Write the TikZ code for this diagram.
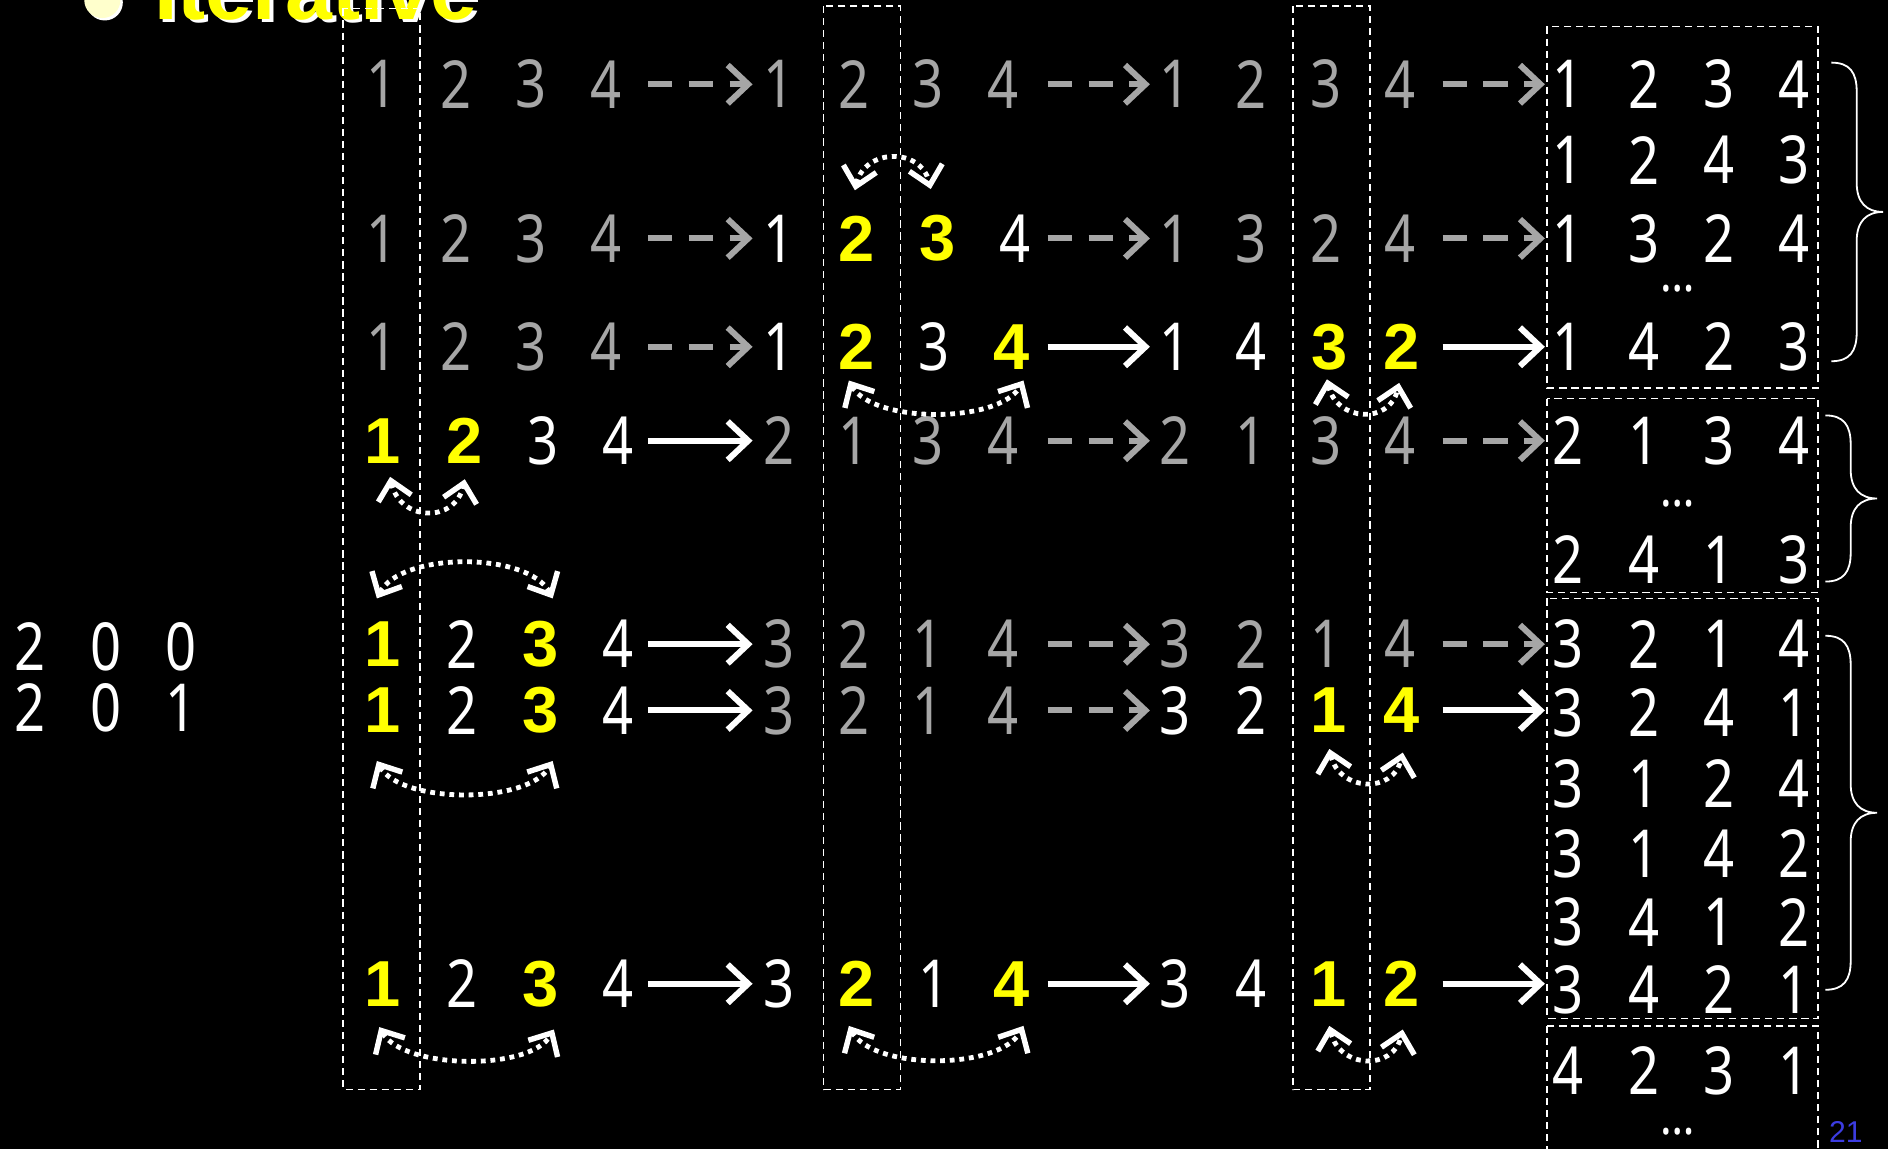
\documentclass[tikz,border=0pt]{standalone}
\usepackage{fontspec}
\setmainfont{Noto Sans}
\newfontfamily\dfam[FakeStretch=0.82]{Noto Sans}
\newfontfamily\bfam{Liberation Sans}
\usetikzlibrary{arrows.meta,calc}
\definecolor{dgray}{RGB}{166,166,166}
\definecolor{yel}{RGB}{255,255,0}
\definecolor{pgblue}{RGB}{60,60,225}
\definecolor{bul}{RGB}{255,255,204}
\newcommand\dg[5]{\node[#1] (#2) at (#3,#4) {#5};}
\newcommand\drow[6]{\dg{wh}{#1a}{1302}{#2}{#3}\dg{wh}{#1b}{1365}{#2}{#4}\dg{wh}{#1c}{1428}{#2}{#5}\dg{wh}{#1d}{1490}{#2}{#6}}
\newcommand\rbrc[3]{%
 \pgfmathsetmacro\bmid{(#1+#2)/2}%
 \draw[brc] (#3,#1) .. controls +(15,0) and +(0,-16) .. (#3+21,#1+24) -- (#3+21,\bmid-24) .. controls +(0,16) and +(-14,0) .. (#3+43,\bmid) .. controls +(-14,0) and +(0,-16) .. (#3+21,\bmid+24) -- (#3+21,#2-24) .. controls +(0,16) and +(15,0) .. (#3,#2);}
\tikzset{
 hd/.tip={Straight Barb[length=17pt,width=32pt,line width=5pt]},
 sh/.tip={Straight Barb[length=15pt,width=28pt,line width=4.5pt]}}
\begin{document}
\begin{tikzpicture}[x=1pt,y=-1pt,
 dgt/.style={inner sep=0pt,font=\dfam\fontsize{55}{60}\selectfont},
 gr/.style={dgt,text=dgray},
 wh/.style={dgt,text=white},
 yl/.style={inner sep=0pt,text=yel,font=\bfam\bfseries\fontsize{54}{60}\selectfont},
 dts/.style={inner sep=0pt,text=white,font=\dfam\fontsize{44}{46}\selectfont},
 garr/.style={draw=dgray,line width=5pt,dash pattern=on 20pt off 14pt,-hd},
 warr/.style={draw=white,line width=5pt,-hd},
 swp/.style={draw=white,line width=4pt,dash pattern=on 4pt off 4pt,sh-sh},
 dbox/.style={draw=white,line width=1.3pt,dash pattern=on 6pt off 4pt},
 brc/.style={draw=white,line width=1.5pt}]
\useasboundingbox (0,0) rectangle (1568,954);
\fill[black] (0,0) rectangle (1568,954);
\clip (0,0) rectangle (1568,954);
% title (cut off at the top, as in the reference)
\node[circle,fill=white,minimum size=30pt,inner sep=0pt] (bulsh) at (87,2) {};
\node[circle,fill=bul,minimum size=30pt,inner sep=0pt] (bullet) at (85,0) {};
\node[anchor=base west,inner sep=0pt,text=white,font=\bfam\bfseries\fontsize{70}{80}\selectfont] (ttlsh) at (131,19) {Iterative};
\node[anchor=base west,inner sep=0pt,text=yel,font=\bfam\bfseries\fontsize{70}{80}\selectfont] (ttl) at (128,16) {Iterative};
% column boxes
\draw[dbox] (285,7) rectangle (349,905);
\draw[dbox] (684,5) rectangle (748,905);
\draw[dbox] (1074,5) rectangle (1138,905);
% result boxes
\draw[dbox] (1285,22) rectangle (1510,322);
\draw[dbox] (1285,331) rectangle (1510,492);
\draw[dbox] (1285,497) rectangle (1510,846);
\draw[dbox] (1285,852) rectangle (1510,980);
% left labels
\dg{wh}{l11}{25}{537}{2}\dg{wh}{l12}{88}{537}{0}\dg{wh}{l13}{150}{537}{0}
\dg{wh}{l21}{25}{588}{2}\dg{wh}{l22}{88}{588}{0}\dg{wh}{l23}{150}{588}{1}
% row 1
\dg{gr}{r1a1}{317}{70}{1}\dg{gr}{r1a2}{379}{70}{2}\dg{gr}{r1a3}{441}{70}{3}\dg{gr}{r1a4}{503}{70}{4}
\dg{gr}{r1b1}{647}{70}{1}\dg{gr}{r1b2}{709}{70}{2}\dg{gr}{r1b3}{771}{70}{3}\dg{gr}{r1b4}{833}{70}{4}
\dg{gr}{r1c1}{976}{70}{1}\dg{gr}{r1c2}{1039}{70}{2}\dg{gr}{r1c3}{1101}{70}{3}\dg{gr}{r1c4}{1163}{70}{4}
% row 2
\dg{gr}{r2a1}{317}{198}{1}\dg{gr}{r2a2}{379}{198}{2}\dg{gr}{r2a3}{441}{198}{3}\dg{gr}{r2a4}{503}{198}{4}
\dg{wh}{r2b1}{647}{198}{1}\dg{yl}{r2b2}{711}{198}{2}\dg{yl}{r2b3}{779}{198}{3}\dg{wh}{r2b4}{843}{198}{4}
\dg{gr}{r2c1}{976}{198}{1}\dg{gr}{r2c2}{1039}{198}{3}\dg{gr}{r2c3}{1101}{198}{2}\dg{gr}{r2c4}{1163}{198}{4}
% row 3
\dg{gr}{r3a1}{317}{288}{1}\dg{gr}{r3a2}{379}{288}{2}\dg{gr}{r3a3}{441}{288}{3}\dg{gr}{r3a4}{503}{288}{4}
\dg{wh}{r3b1}{647}{288}{1}\dg{yl}{r3b2}{711}{288}{2}\dg{wh}{r3b3}{776}{288}{3}\dg{yl}{r3b4}{840}{288}{4}
\dg{wh}{r3c1}{976}{288}{1}\dg{wh}{r3c2}{1039}{288}{4}\dg{yl}{r3c3}{1104}{288}{3}\dg{yl}{r3c4}{1164}{288}{2}
% row 4
\dg{yl}{r4a1}{318}{366}{1}\dg{yl}{r4a2}{386}{366}{2}\dg{wh}{r4a3}{451}{366}{3}\dg{wh}{r4a4}{513}{366}{4}
\dg{gr}{r4b1}{647}{366}{2}\dg{gr}{r4b2}{709}{366}{1}\dg{gr}{r4b3}{771}{366}{3}\dg{gr}{r4b4}{833}{366}{4}
\dg{gr}{r4c1}{976}{366}{2}\dg{gr}{r4c2}{1039}{366}{1}\dg{gr}{r4c3}{1101}{366}{3}\dg{gr}{r4c4}{1163}{366}{4}
% row 5
\dg{yl}{r5a1}{318}{535}{1}\dg{wh}{r5a2}{384}{535}{2}\dg{yl}{r5a3}{449}{535}{3}\dg{wh}{r5a4}{513}{535}{4}
\dg{gr}{r5b1}{647}{535}{3}\dg{gr}{r5b2}{709}{535}{2}\dg{gr}{r5b3}{771}{535}{1}\dg{gr}{r5b4}{833}{535}{4}
\dg{gr}{r5c1}{976}{535}{3}\dg{gr}{r5c2}{1039}{535}{2}\dg{gr}{r5c3}{1101}{535}{1}\dg{gr}{r5c4}{1163}{535}{4}
% row 6
\dg{yl}{r6a1}{318}{590}{1}\dg{wh}{r6a2}{384}{590}{2}\dg{yl}{r6a3}{449}{590}{3}\dg{wh}{r6a4}{513}{590}{4}
\dg{gr}{r6b1}{647}{590}{3}\dg{gr}{r6b2}{709}{590}{2}\dg{gr}{r6b3}{771}{590}{1}\dg{gr}{r6b4}{833}{590}{4}
\dg{wh}{r6c1}{976}{590}{3}\dg{wh}{r6c2}{1039}{590}{2}\dg{yl}{r6c3}{1103}{590}{1}\dg{yl}{r6c4}{1164}{590}{4}
% row 7
\dg{yl}{r7a1}{318}{817}{1}\dg{wh}{r7a2}{384}{817}{2}\dg{yl}{r7a3}{449}{817}{3}\dg{wh}{r7a4}{513}{817}{4}
\dg{wh}{r7b1}{647}{817}{3}\dg{yl}{r7b2}{711}{817}{2}\dg{wh}{r7b3}{776}{817}{1}\dg{yl}{r7b4}{840}{817}{4}
\dg{wh}{r7c1}{976}{817}{3}\dg{wh}{r7c2}{1039}{817}{4}\dg{yl}{r7c3}{1103}{817}{1}\dg{yl}{r7c4}{1164}{817}{2}
% results
\drow{d1}{70}{1}{2}{3}{4}
\drow{d2}{133}{1}{2}{4}{3}
\drow{d3}{198}{1}{3}{2}{4}
\node[dts] (dt1) at (1393,240) {…};
\drow{d4}{288}{1}{4}{2}{3}
\drow{d5}{366}{2}{1}{3}{4}
\node[dts] (dt2) at (1393,418) {…};
\drow{d6}{465}{2}{4}{1}{3}
\drow{d7}{535}{3}{2}{1}{4}
\drow{d8}{592}{3}{2}{4}{1}
\drow{d9}{651}{3}{1}{2}{4}
\drow{d10}{709}{3}{1}{4}{2}
\drow{d11}{766}{3}{4}{1}{2}
\drow{d12}{822}{3}{4}{2}{1}
\drow{d13}{889}{4}{2}{3}{1}
\node[dts] (dt3) at (1393,940) {…};
% braces
\rbrc{52}{300}{1521}
\rbrc{345}{483}{1516}
\rbrc{528}{822}{1516}
% arrow x positions
\coordinate (ab0) at (538,0); \coordinate (ab1) at (625,0);
\coordinate (bc0) at (870,0); \coordinate (bc1) at (955,0);
\coordinate (cd0) at (1198,0); \coordinate (cd1) at (1283,0);
% arrows
\draw[garr] (r1a4 -| ab0) -- (r1b1 -| ab1);
\draw[garr] (r1b4 -| bc0) -- (r1c1 -| bc1);
\draw[garr] (r1c4 -| cd0) -- (r1c4 -| cd1);
\draw[garr] (r2a4 -| ab0) -- (r2b1 -| ab1);
\draw[garr] (r2b4 -| bc0) -- (r2c1 -| bc1);
\draw[garr] (r2c4 -| cd0) -- (r2c4 -| cd1);
\draw[garr] (r3a4 -| ab0) -- (r3b1 -| ab1);
\draw[warr] (r3b4 -| bc0) -- (r3c1 -| bc1);
\draw[warr] (r3c4 -| cd0) -- (r3c4 -| cd1);
\draw[warr] (r4a4 -| ab0) -- (r4b1 -| ab1);
\draw[garr] (r4b4 -| bc0) -- (r4c1 -| bc1);
\draw[garr] (r4c4 -| cd0) -- (r4c4 -| cd1);
\draw[warr] (r5a4 -| ab0) -- (r5b1 -| ab1);
\draw[garr] (r5b4 -| bc0) -- (r5c1 -| bc1);
\draw[garr] (r5c4 -| cd0) -- (r5c4 -| cd1);
\draw[warr] (r6a4 -| ab0) -- (r6b1 -| ab1);
\draw[garr] (r6b4 -| bc0) -- (r6c1 -| bc1);
\draw[warr] (r6c4 -| cd0) -- (r6c4 -| cd1);
\draw[warr] (r7a4 -| ab0) -- (r7b1 -| ab1);
\draw[warr] (r7b4 -| bc0) -- (r7c1 -| bc1);
\draw[warr] (r7c4 -| cd0) -- (r7c4 -| cd1);
% swaps
\draw[swp] ($(r4a1)+(6,30)$) .. controls +(8,37) and +(-8,37) .. ($(r4a2)+(0,32)$);
\draw[swp] ($(r5a1)+(-5,-38)$) .. controls +(20,-39) and +(-20,-39) .. ($(r5a3)+(10,-38)$);
\draw[swp] ($(r6a1)+(-5,42)$) .. controls +(20,36) and +(-20,36) .. ($(r6a3)+(10,42)$);
\draw[swp] ($(r7a1)+(-3,36)$) .. controls +(20,35) and +(-20,35) .. ($(r7a3)+(11,38)$);
\draw[swp] ($(r2b2)+(-1,-40)$) .. controls +(8,-35) and +(-8,-35) .. ($(r2b3)+(-6,-41)$);
\draw[swp] ($(r3b2)+(-6,28)$) .. controls +(20,36) and +(-20,36) .. ($(r3b4)+(10,28)$);
\draw[swp] ($(r7b2)+(-6,35)$) .. controls +(20,37) and +(-20,37) .. ($(r7b4)+(10,35)$);
\draw[swp] ($(r3c3)+(-2,27)$) .. controls +(8,35) and +(-8,35) .. ($(r3c4)+(-2,30)$);
\draw[swp] ($(r6c3)+(1,32)$) .. controls +(8,35) and +(-8,35) .. ($(r6c4)+(1,35)$);
\draw[swp] ($(r7c3)+(1,35)$) .. controls +(8,35) and +(-8,35) .. ($(r7c4)+(1,38)$);
% page number
\node[inner sep=0pt,text=pgblue,font=\bfam\fontsize{25}{27}\selectfont] (pnum) at (1533,940) {21};
\end{tikzpicture}
\end{document}
